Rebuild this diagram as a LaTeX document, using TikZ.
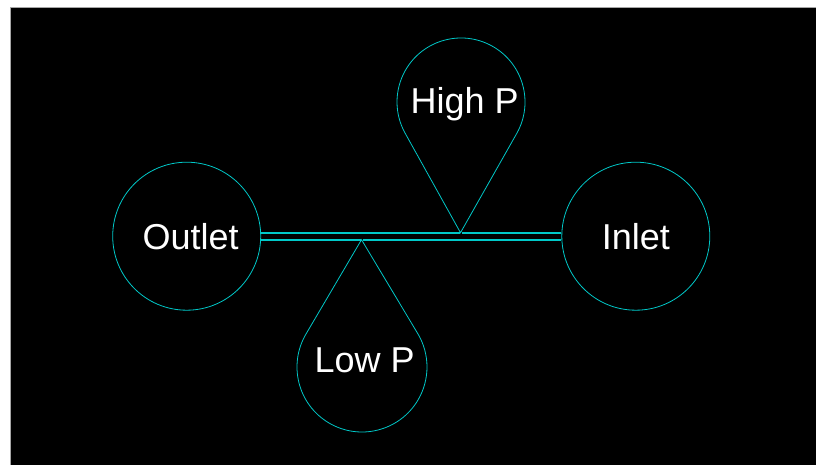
\documentclass[tikz,border=0pt]{standalone}
\usepackage{fontspec}
\setmainfont{Liberation Sans}
\definecolor{pipecyan}{RGB}{0,200,200}
\begin{document}
\begin{tikzpicture}[x=1pt, y=1pt,
        port/.style={circle, draw=pipecyan, line width=0.8pt, minimum size=148pt, inner sep=0pt, text=white, font=\fontsize{36}{40}\selectfont},
        drop/.style={draw=pipecyan, line width=0.8pt},
        pipe/.style={draw=pipecyan, line width=1.7pt},
        tag/.style={text=white, font=\fontsize{36}{40}\selectfont, anchor=base}]
            \useasboundingbox (0, 0) rectangle (816, 465);
            \filldraw[fill=black, draw=gray!70] (10, -2) rectangle (818, 458);
            \path (186.7, 228.8) coordinate (O);
            \path (635.8, 228.8) coordinate (I);
            \path (461, 363) coordinate (HC);
            \path (362, 98) coordinate (LC);
            \path (460.5, 232.3) coordinate (htip);
            \path (361.5, 225.3) coordinate (ltip);
            \node[port] (outlet) at (O) {\hspace{8pt}Outlet};
            \node[port] (inlet) at (I) {Inlet};
            \draw[drop] (htip) -- ([shift={(-29.32:64)}]HC) arc (-29.32:209.32:64) -- cycle;
            \draw[drop] (ltip) -- ([shift={(149.22:65)}]LC) arc (149.22:390.78:65) -- cycle;
            \node[tag] (highp) at (464.7, 351.7) {High P};
            \node[tag] (lowp) at (364.7, 92.3) {Low P};
            \draw[pipe] ([yshift=3.5]outlet.east) -- ([xshift=-1]htip);
            \draw[pipe] ([xshift=1]htip) -- ([yshift=3.5]inlet.west);
            \draw[pipe] ([yshift=-3.5]outlet.east) -- ([xshift=-1]ltip);
            \draw[pipe] ([xshift=1]ltip) -- ([yshift=-3.5]inlet.west);
        \end{tikzpicture}
\end{document}
